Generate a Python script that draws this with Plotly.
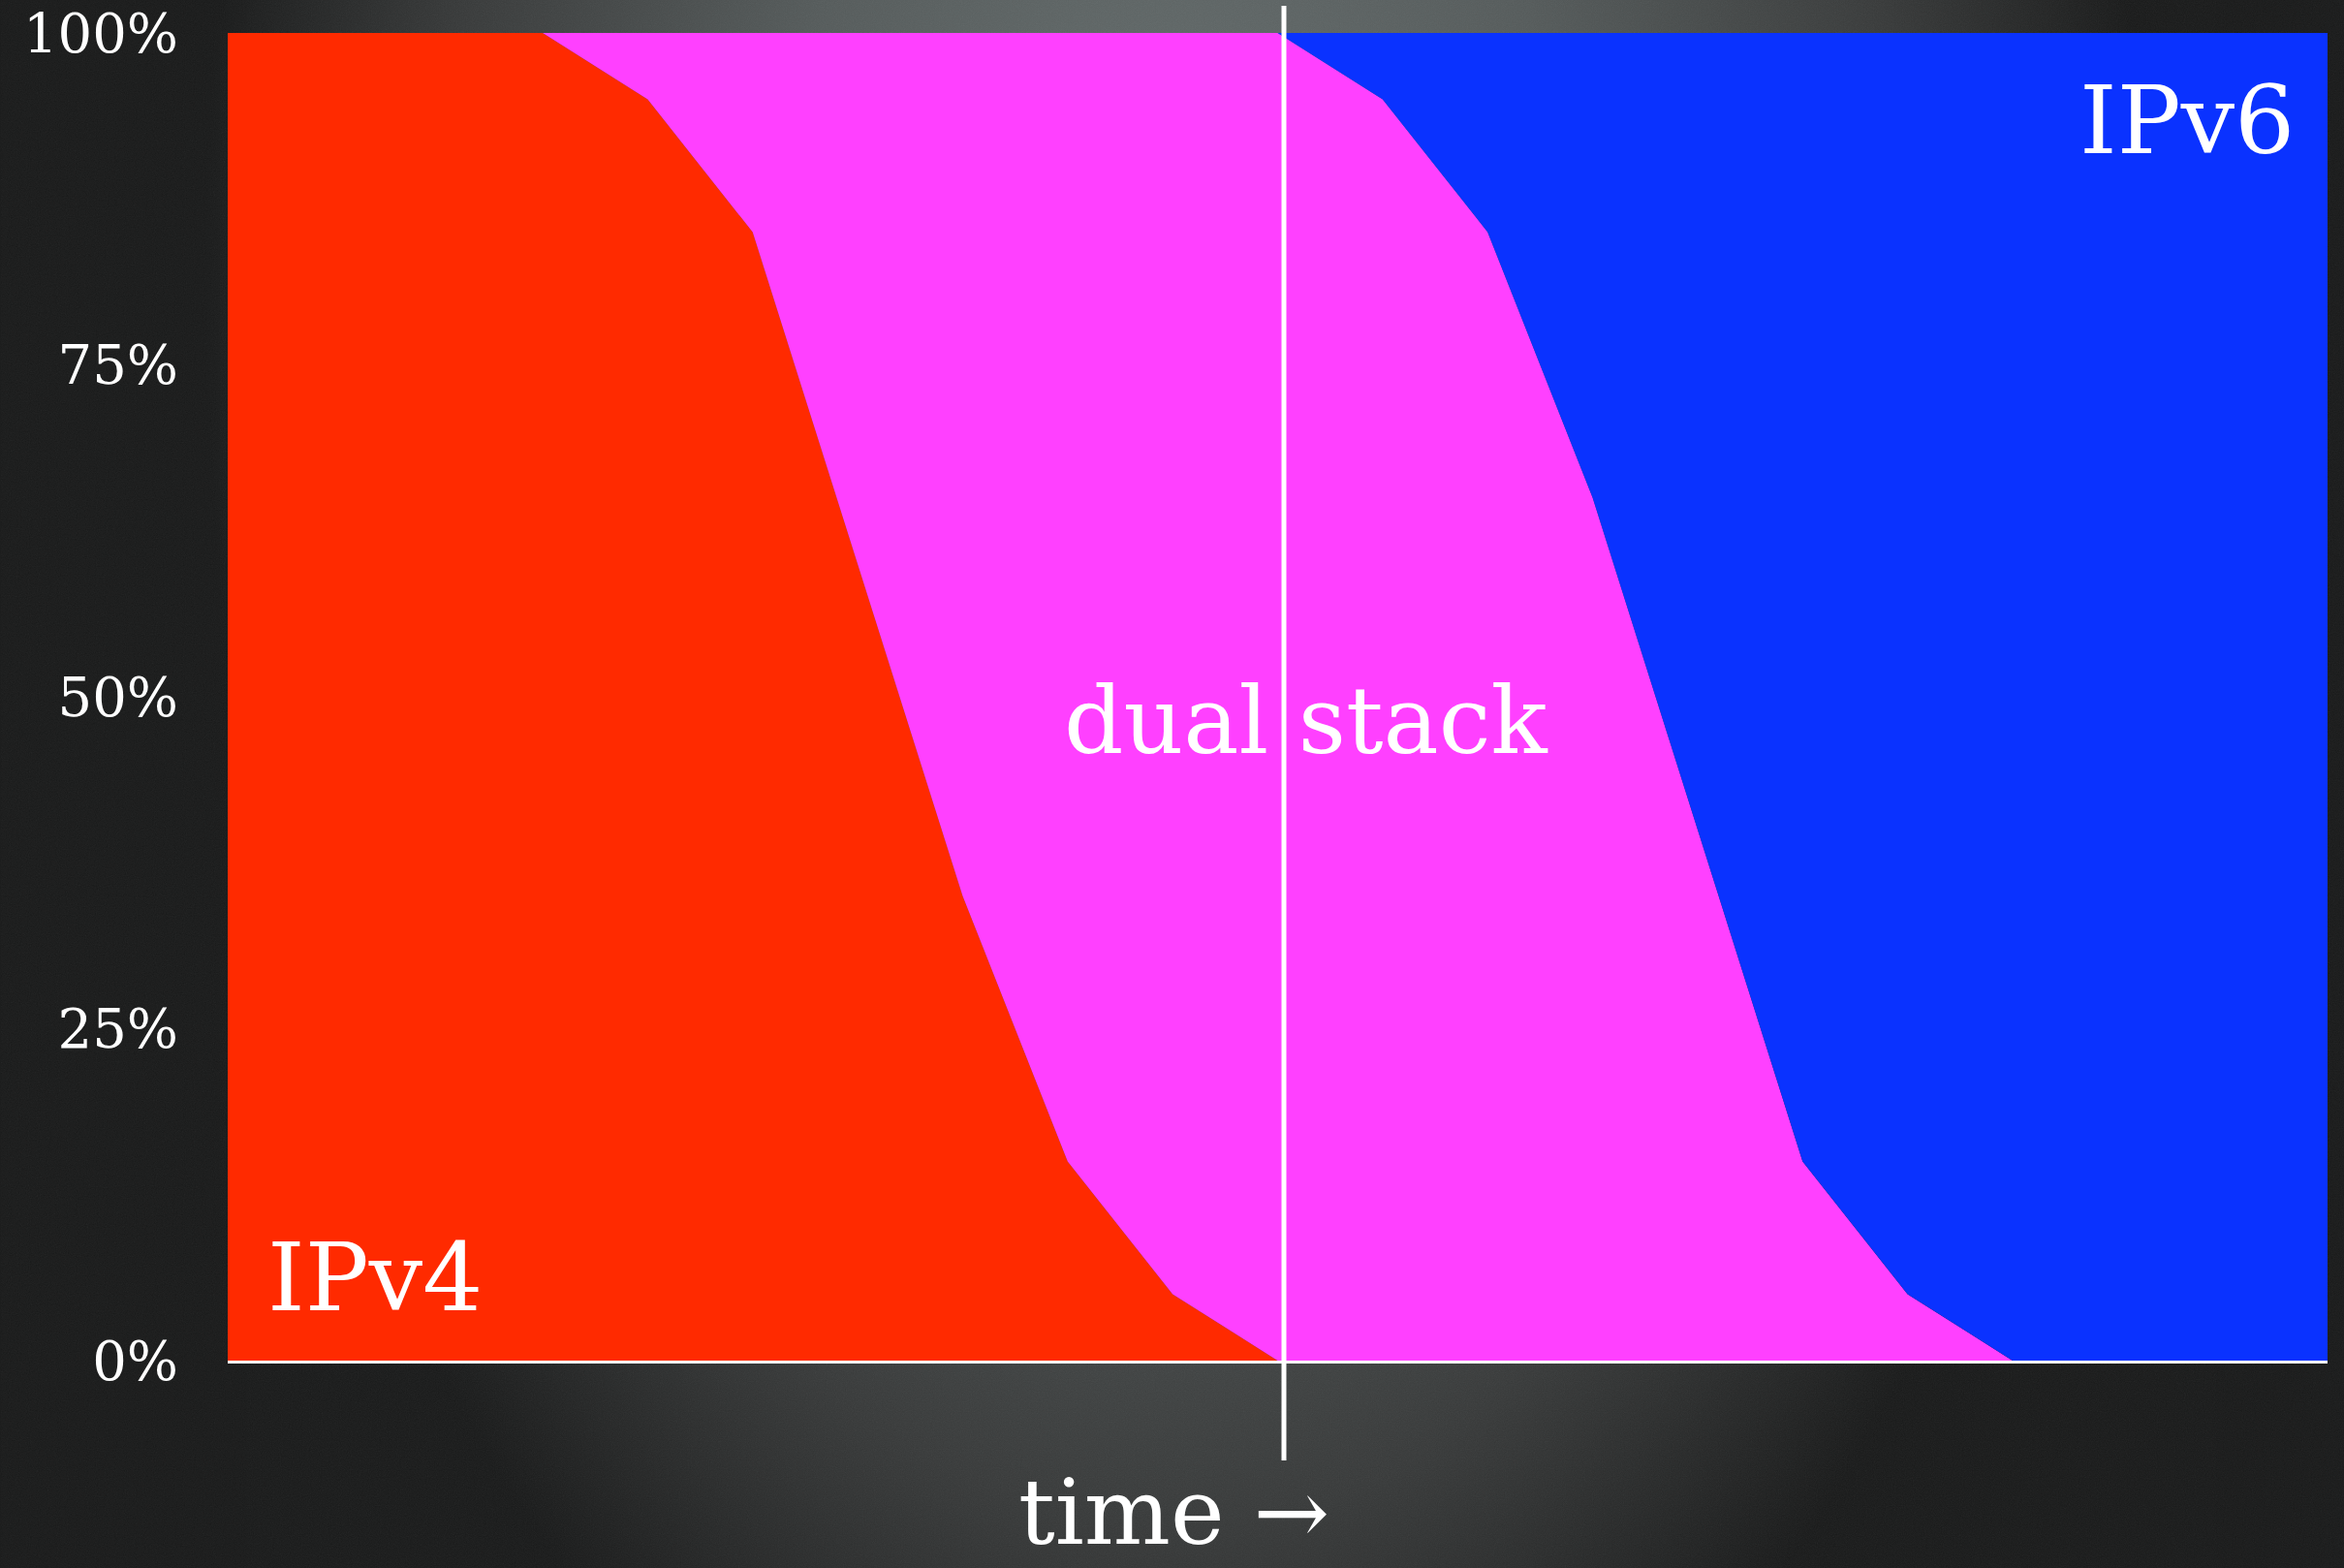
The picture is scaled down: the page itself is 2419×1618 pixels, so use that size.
import base64
import plotly.graph_objects as go

# ---- data ----
time_steps = list(range(21))
ipv4_share = [100, 100, 100, 100, 95, 85, 60, 35, 15, 5, 0, 0, 0, 0, 0, 0, 0, 0, 0, 0, 0]
ipv6_share = [0, 0, 0, 0, 0, 0, 0, 0, 0, 0, 0, 5, 15, 35, 60, 85, 95, 100, 100, 100, 100]
dual_share = [100 - a - b for a, b in zip(ipv4_share, ipv6_share)]
y_tickvals = [0, 25, 50, 75, 100]
y_ticktext = ["0%", "25%", "50%", "75%", "100%"]
series_names = ["IPv4", "dual stack", "IPv6"]
transition_point = 10.06

# ---- layout constants ----
W, H = 2419, 1618
ML, MR, MT, MB = 234.5, 17, 34, 214
FONT = "DejaVu Serif"
RED, MAGENTA, BLUE = "#FF2A00", "#FF40FF", "#0A32FF"

svg = f'''<svg xmlns="http://www.w3.org/2000/svg" width="{W}" height="{H}" viewBox="0 0 {W} {H}">
<defs>
<radialGradient id="g" gradientUnits="userSpaceOnUse" cx="0" cy="0" r="1"
 gradientTransform="translate(1210 300) scale(1000 1700)">
<stop offset="0" stop-color="#656d6d"/>
<stop offset="0.4" stop-color="#555b5b"/>
<stop offset="0.75" stop-color="#383a3a"/>
<stop offset="1" stop-color="#191a1a"/>
</radialGradient>
<filter id="n"><feTurbulence type="fractalNoise" baseFrequency="0.9" numOctaves="2" stitchTiles="stitch"/>
<feColorMatrix type="saturate" values="0"/></filter>
</defs>
<rect width="{W}" height="{H}" fill="url(#g)"/>
<rect width="{W}" height="{H}" filter="url(#n)" opacity="0.07"/>
</svg>'''
bg_src = "data:image/svg+xml;base64," + base64.b64encode(svg.encode()).decode()

pw, ph = W - ML - MR, H - MT - MB

fig = go.Figure()
for name, vals, col in zip(series_names, [ipv4_share, dual_share, ipv6_share], [RED, MAGENTA, BLUE]):
    fig.add_trace(go.Scatter(
        x=time_steps, y=vals, name=name, mode="lines", stackgroup="one",
        line=dict(width=0, color=col), fillcolor=col, hoverinfo="x+y+name",
    ))

fig.add_shape(type="line", xref="x", yref="paper",
              x0=transition_point, x1=transition_point,
              y0=-(1507 - (H - MB)) / ph, y1=1 + (MT - 6) / ph,
              line=dict(color="white", width=5), layer="above")

ann_font = dict(family=FONT, size=98, color="white")
fig.add_annotation(x=1.40, y=6.3, xref="x", yref="y", text="IPv4", showarrow=False,
                   font=ann_font, xanchor="center", yanchor="middle")
fig.add_annotation(x=10.27, y=48.2, xref="x", yref="y", text="dual stack", showarrow=False,
                   font=dict(family=FONT, size=96, color="white"), xanchor="center", yanchor="middle")
fig.add_annotation(x=18.66, y=93.4, xref="x", yref="y", text="IPv6", showarrow=False,
                   font=ann_font, xanchor="center", yanchor="middle")
fig.add_annotation(x=9.01, y=-(1616 - (H - MB)) / ph, xref="x", yref="paper", text="time →",
                   showarrow=False, borderpad=0,
                   font=dict(family=FONT, size=94, color="white"), xanchor="center", yanchor="bottom")

fig.update_layout(
    width=W, height=H,
    margin=dict(l=ML, r=MR, t=MT, b=MB, pad=0, autoexpand=False),
    paper_bgcolor="#1c1c1c", plot_bgcolor="rgba(0,0,0,0)",
    showlegend=False,
    images=[dict(source=bg_src, xref="paper", yref="paper",
                 x=-ML / pw, y=1 + MT / ph, sizex=W / pw, sizey=H / ph,
                 xanchor="left", yanchor="top", sizing="stretch", layer="below")],
    xaxis=dict(range=[0, 20], showgrid=False, zeroline=False, showticklabels=False,
               showline=True, linecolor="white", linewidth=3, ticks="", automargin=False),
    yaxis=dict(range=[0, 100], showgrid=False, zeroline=False, showline=False,
               tickvals=y_tickvals, ticktext=y_ticktext, ticks="",
               ticklabelstandoff=50, automargin=False,
               tickfont=dict(family=FONT, size=56, color="white")),
)

fig.write_html("out.html")
